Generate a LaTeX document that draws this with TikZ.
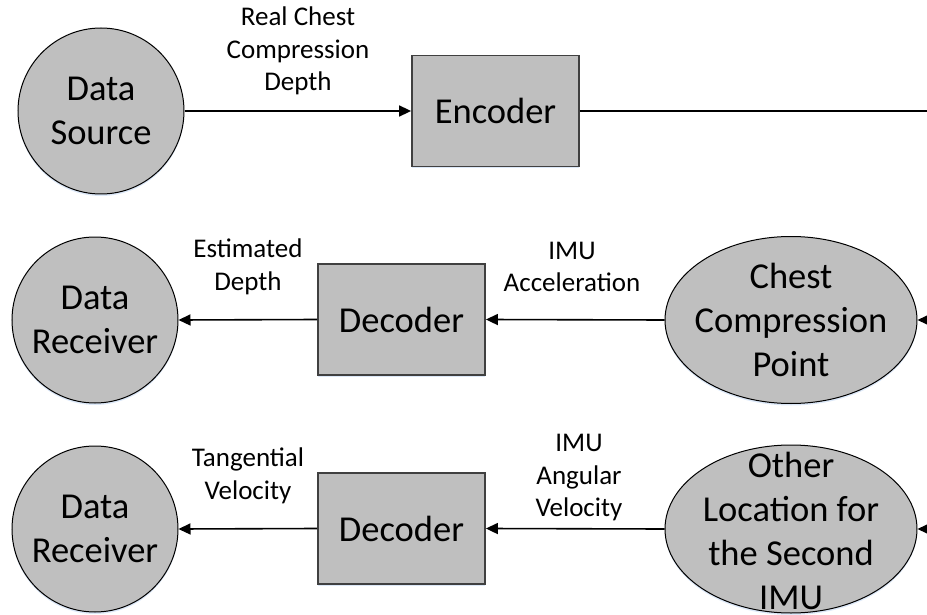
\documentclass[tikz,border=0pt]{standalone}
\usepackage{fontspec}
\setmainfont{Carlito}
\usetikzlibrary{arrows.meta,shapes.geometric,shadows}
\definecolor{shapefill}{HTML}{BFBFBF}
\definecolor{boxline}{HTML}{404040}
\definecolor{glow}{HTML}{DCE8F8}
\tikzset{
  bigtext/.style={font=\fontsize{36.5}{44}\selectfont, align=center},
  smalltext/.style={font=\fontsize{27}{32.5}\selectfont, align=center, inner sep=0pt},
  soft/.style={drop shadow={shadow xshift=0pt, shadow yshift=-2pt, fill=glow, opacity=1}},
  roundnode/.style={circle, draw=black, line width=1pt, fill=shapefill,
    minimum size=166pt, inner sep=0pt, bigtext, soft},
  ovalnode/.style={ellipse, draw=black, line width=1pt, fill=shapefill,
    minimum width=252pt, minimum height=167pt, inner sep=0pt, soft},
  blocknode/.style={rectangle, draw=boxline, line width=1.8pt, fill=shapefill,
    minimum width=167pt, minimum height=111pt, inner sep=0pt, bigtext, soft},
  flow/.style={line width=1.6pt, -{Triangle[length=12pt,width=11pt]}},
  plain/.style={line width=1.6pt},
}
\begin{document}
\begin{tikzpicture}[x=1pt, y=-1pt]
  \useasboundingbox (0,0) rectangle (927,615);

  % top row: source and encoder
  \node[roundnode] (src) at (101,111) {Data\\Source};
  \node[blocknode] (enc) at (495.5,111) {Encoder};
  \coordinate (encout) at (927,111);

  % middle row: chest compression point
  \node[roundnode] (rcvA) at (95,320) {Data\\Receiver};
  \node[blocknode] (decA) at (401.5,319.5) {Decoder};
  \node[ovalnode, label={[bigtext]center:Chest\\Compression\\Point}] (chest) at (791,320) {};
  \coordinate (chestin) at (927,320);

  % bottom row: second IMU location
  \node[roundnode] (rcvB) at (95,529) {Data\\Receiver};
  \node[blocknode] (decB) at (401.5,528.5) {Decoder};
  \node[ovalnode, minimum height=168pt, label={[bigtext, yshift=-2pt]center:Other\\Location for\\the Second\\IMU}] (other) at (791,529) {};
  \coordinate (otherin) at (927,529);

  % connectors
  \draw[flow] (src.east) -- (enc.west);
  \draw[plain] (enc.east) -- (encout);
  \draw[flow] (decA.west) -- (rcvA.east);
  \draw[flow] (chest.west) -- (decA.east);
  \draw[flow] (chestin) -- (chest.east);
  \draw[flow] (decB.west) -- (rcvB.east);
  \draw[flow] (other.west) -- (decB.east);
  \draw[flow] (otherin) -- (other.east);

  % connector labels
  \node[smalltext] (lblsrc) at (298,51) {Real Chest\\Compression\\Depth};
  \node[smalltext] (lbldepth) at (248,267) {Estimated\\Depth};
  \node[smalltext] (lblacc) at (572,267) {IMU\\Acceleration};
  \node[smalltext] (lbltan) at (248,476) {Tangential\\Velocity};
  \node[smalltext] (lblang) at (579,478) {IMU\\Angular\\Velocity};
\end{tikzpicture}
\end{document}
